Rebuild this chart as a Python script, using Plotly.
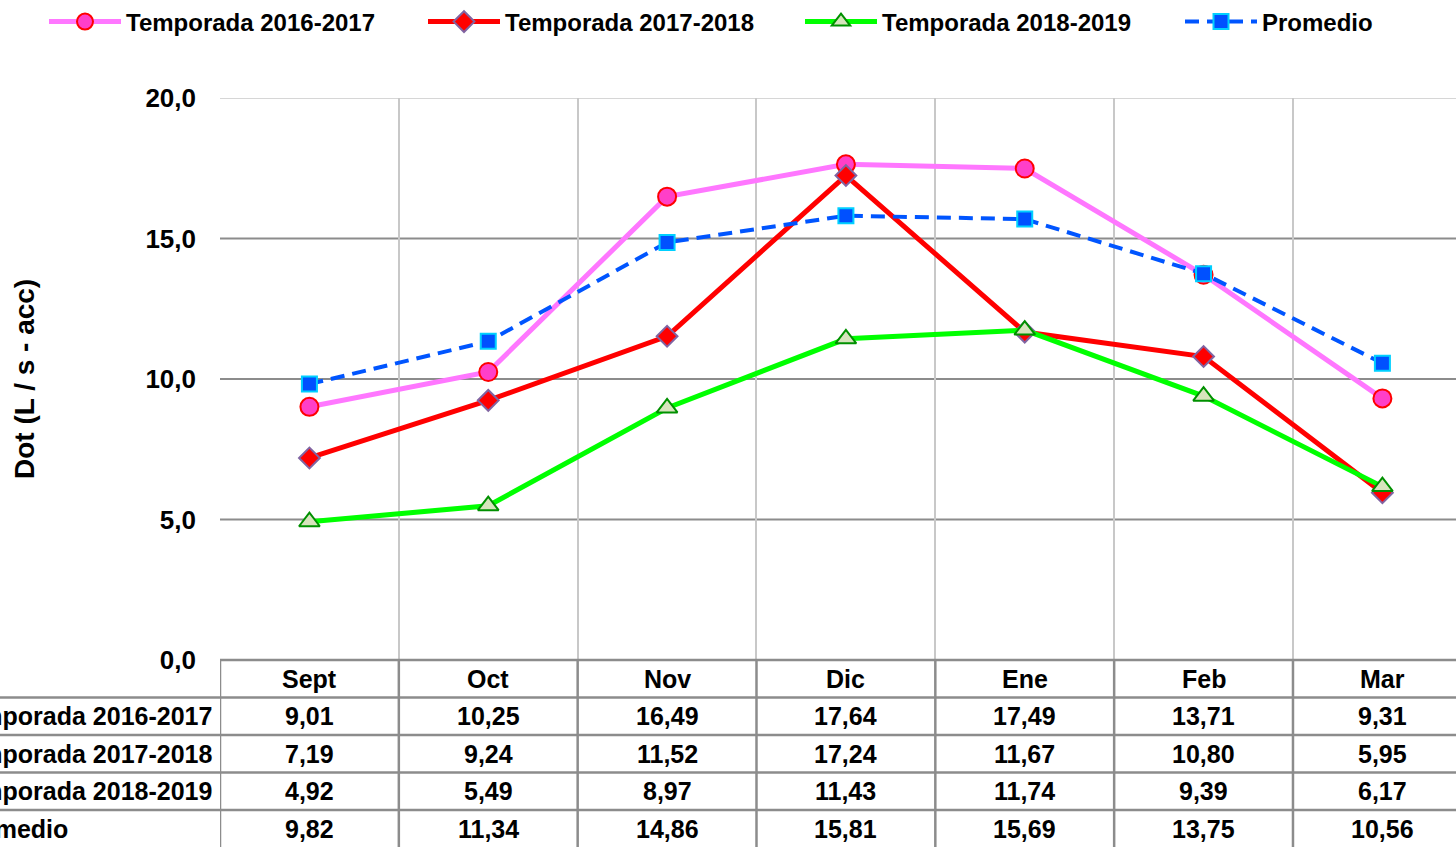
import plotly.graph_objects as go

W, H = 1456, 847

months = ["Sept", "Oct", "Nov", "Dic", "Ene", "Feb", "Mar"]
series_names = ["Temporada 2016-2017", "Temporada 2017-2018", "Temporada 2018-2019", "Promedio"]
t2016 = [9.01, 10.25, 16.49, 17.64, 17.49, 13.71, 9.31]
t2017 = [7.19, 9.24, 11.52, 17.24, 11.67, 10.80, 5.95]
t2018 = [4.92, 5.49, 8.97, 11.43, 11.74, 9.39, 6.17]
promedio = [9.82, 11.34, 14.86, 15.81, 15.69, 13.75, 10.56]
y_ticks = [0, 5, 10, 15, 20]
y_title = "Dot (L / s - acc)"

series_values = [t2016, t2017, t2018, promedio]

# layout helpers (pixel -> paper)
def xp(px):
    return px / W

def yp(py):
    return 1 - py / H

plot_left, plot_top, plot_bottom = 220, 98, 660
cat_step = 178.83
x_right = -0.5 + (W - plot_left) / cat_step

FONT = "Liberation Sans, Arial, sans-serif"

styles = [
    dict(line=dict(color="#FF77FF", width=5),
         marker=dict(symbol="circle", size=18, color="#FF3FC8", line=dict(color="#FF0000", width=2))),
    dict(line=dict(color="#FF0000", width=5),
         marker=dict(symbol="diamond", size=16, color="#FF0000", line=dict(color="#8064A2", width=2))),
    dict(line=dict(color="#00FF00", width=5),
         marker=dict(symbol="triangle-up", size=18, color="#D7E4BD", line=dict(color="#009000", width=2))),
    dict(line=dict(color="#0055FF", width=4, dash="14px,8px"),
         marker=dict(symbol="square", size=15, color="#0050FF", line=dict(color="#00D0FF", width=2))),
]
legend_ids = ["legend", "legend2", "legend3", "legend4"]
legend_x_px = [44, 423, 800, 1180]

fig = go.Figure()
for name, vals, st, lid in zip(series_names, series_values, styles, legend_ids):
    fig.add_trace(go.Scatter(
        x=list(range(len(months))), y=vals, name=name, mode="lines+markers",
        line=st["line"], marker=st["marker"], cliponaxis=False, legend=lid,
    ))

shapes = []
grid_dark = "#8C8C8C"
grid_light = "#C8C8C8"
for v in y_ticks[1:-1]:
    shapes.append(dict(type="line", xref="paper", yref="y", x0=xp(plot_left), x1=1, y0=v, y1=v,
                       line=dict(color=grid_dark, width=2), layer="below"))
shapes.append(dict(type="line", xref="paper", yref="y", x0=xp(plot_left), x1=1, y0=y_ticks[-1], y1=y_ticks[-1],
                   line=dict(color=grid_light, width=1.5), layer="below"))

# data table lines
row_lines = [660, 697.5, 735, 772.5, 810, 847]
table_color = "#8C8C8C"
shapes.append(dict(type="line", xref="paper", yref="paper", x0=xp(plot_left), x1=1,
                   y0=yp(row_lines[0]), y1=yp(row_lines[0]), line=dict(color=table_color, width=2.5)))
for r in row_lines[1:-1]:
    shapes.append(dict(type="line", xref="paper", yref="paper", x0=0, x1=1,
                       y0=yp(r), y1=yp(r), line=dict(color=table_color, width=2.5)))
for i in range(len(months) + 1):
    shapes.append(dict(type="line", xref="x", yref="paper", x0=i - 0.5, x1=i - 0.5,
                       y0=yp(row_lines[0]), y1=0, line=dict(color=table_color, width=2.5)))

annotations = []
tfont = dict(family=FONT, size=25, color="#000000", weight="bold")
row_centers = [(row_lines[k] + row_lines[k + 1]) / 2 for k in range(5)]
for i, m in enumerate(months):
    annotations.append(dict(x=i, y=yp(row_centers[0]), xref="x", yref="paper", text=m, showarrow=False,
                            font=tfont, xanchor="center", yanchor="middle"))
for k, (name, vals) in enumerate(zip(series_names, series_values)):
    yc = yp(row_centers[k + 1])
    annotations.append(dict(x=xp(-49), y=yc, xref="paper", yref="paper", text=name, showarrow=False,
                            font=tfont, xanchor="left", yanchor="middle"))
    for i, v in enumerate(vals):
        annotations.append(dict(x=i, y=yc, xref="x", yref="paper", text=f"{v:.2f}".replace(".", ","),
                                showarrow=False, font=tfont, xanchor="center", yanchor="middle"))

annotations.append(dict(x=xp(25), y=yp((plot_top + plot_bottom) / 2), xref="paper", yref="paper",
                        text=y_title, textangle=-90, showarrow=False,
                        font=dict(family=FONT, size=28, color="#000000", weight="bold"),
                        xanchor="center", yanchor="middle"))

layout_legends = {}
for lid, lx in zip(legend_ids, legend_x_px):
    layout_legends[lid] = dict(
        orientation="h", x=xp(lx), y=yp(22), xanchor="left", yanchor="middle",
        font=dict(family=FONT, size=24, color="#000000", weight="bold"),
        itemwidth=72, bgcolor="rgba(0,0,0,0)",
    )

fig.update_layout(
    width=W, height=H,
    margin=dict(l=0, r=0, t=0, b=0, pad=0, autoexpand=False),
    paper_bgcolor="white", plot_bgcolor="white",
    separators=",.",
    showlegend=True,
    xaxis=dict(domain=[xp(plot_left), 1], range=[-0.5, x_right],
               tickvals=[i - 0.5 for i in range(len(months) + 1)],
               showticklabels=False, ticks="", showgrid=True, gridcolor=grid_light, gridwidth=1.5,
               zeroline=False, showline=False, fixedrange=True, automargin=False),
    yaxis=dict(domain=[yp(plot_bottom), yp(plot_top)], range=[0, 20], tickvals=y_ticks,
               tickformat=".1f", showgrid=False, zeroline=False, showline=False,
               ticks="", ticklabelstandoff=23, automargin=False,
               tickfont=dict(family=FONT, size=26, color="#000000", weight="bold")),
    shapes=shapes,
    annotations=annotations,
    **layout_legends,
)

fig.write_html("out.html", config={"displayModeBar": False},
               post_script="document.body.style.margin='0';document.body.style.overflow='hidden';")
